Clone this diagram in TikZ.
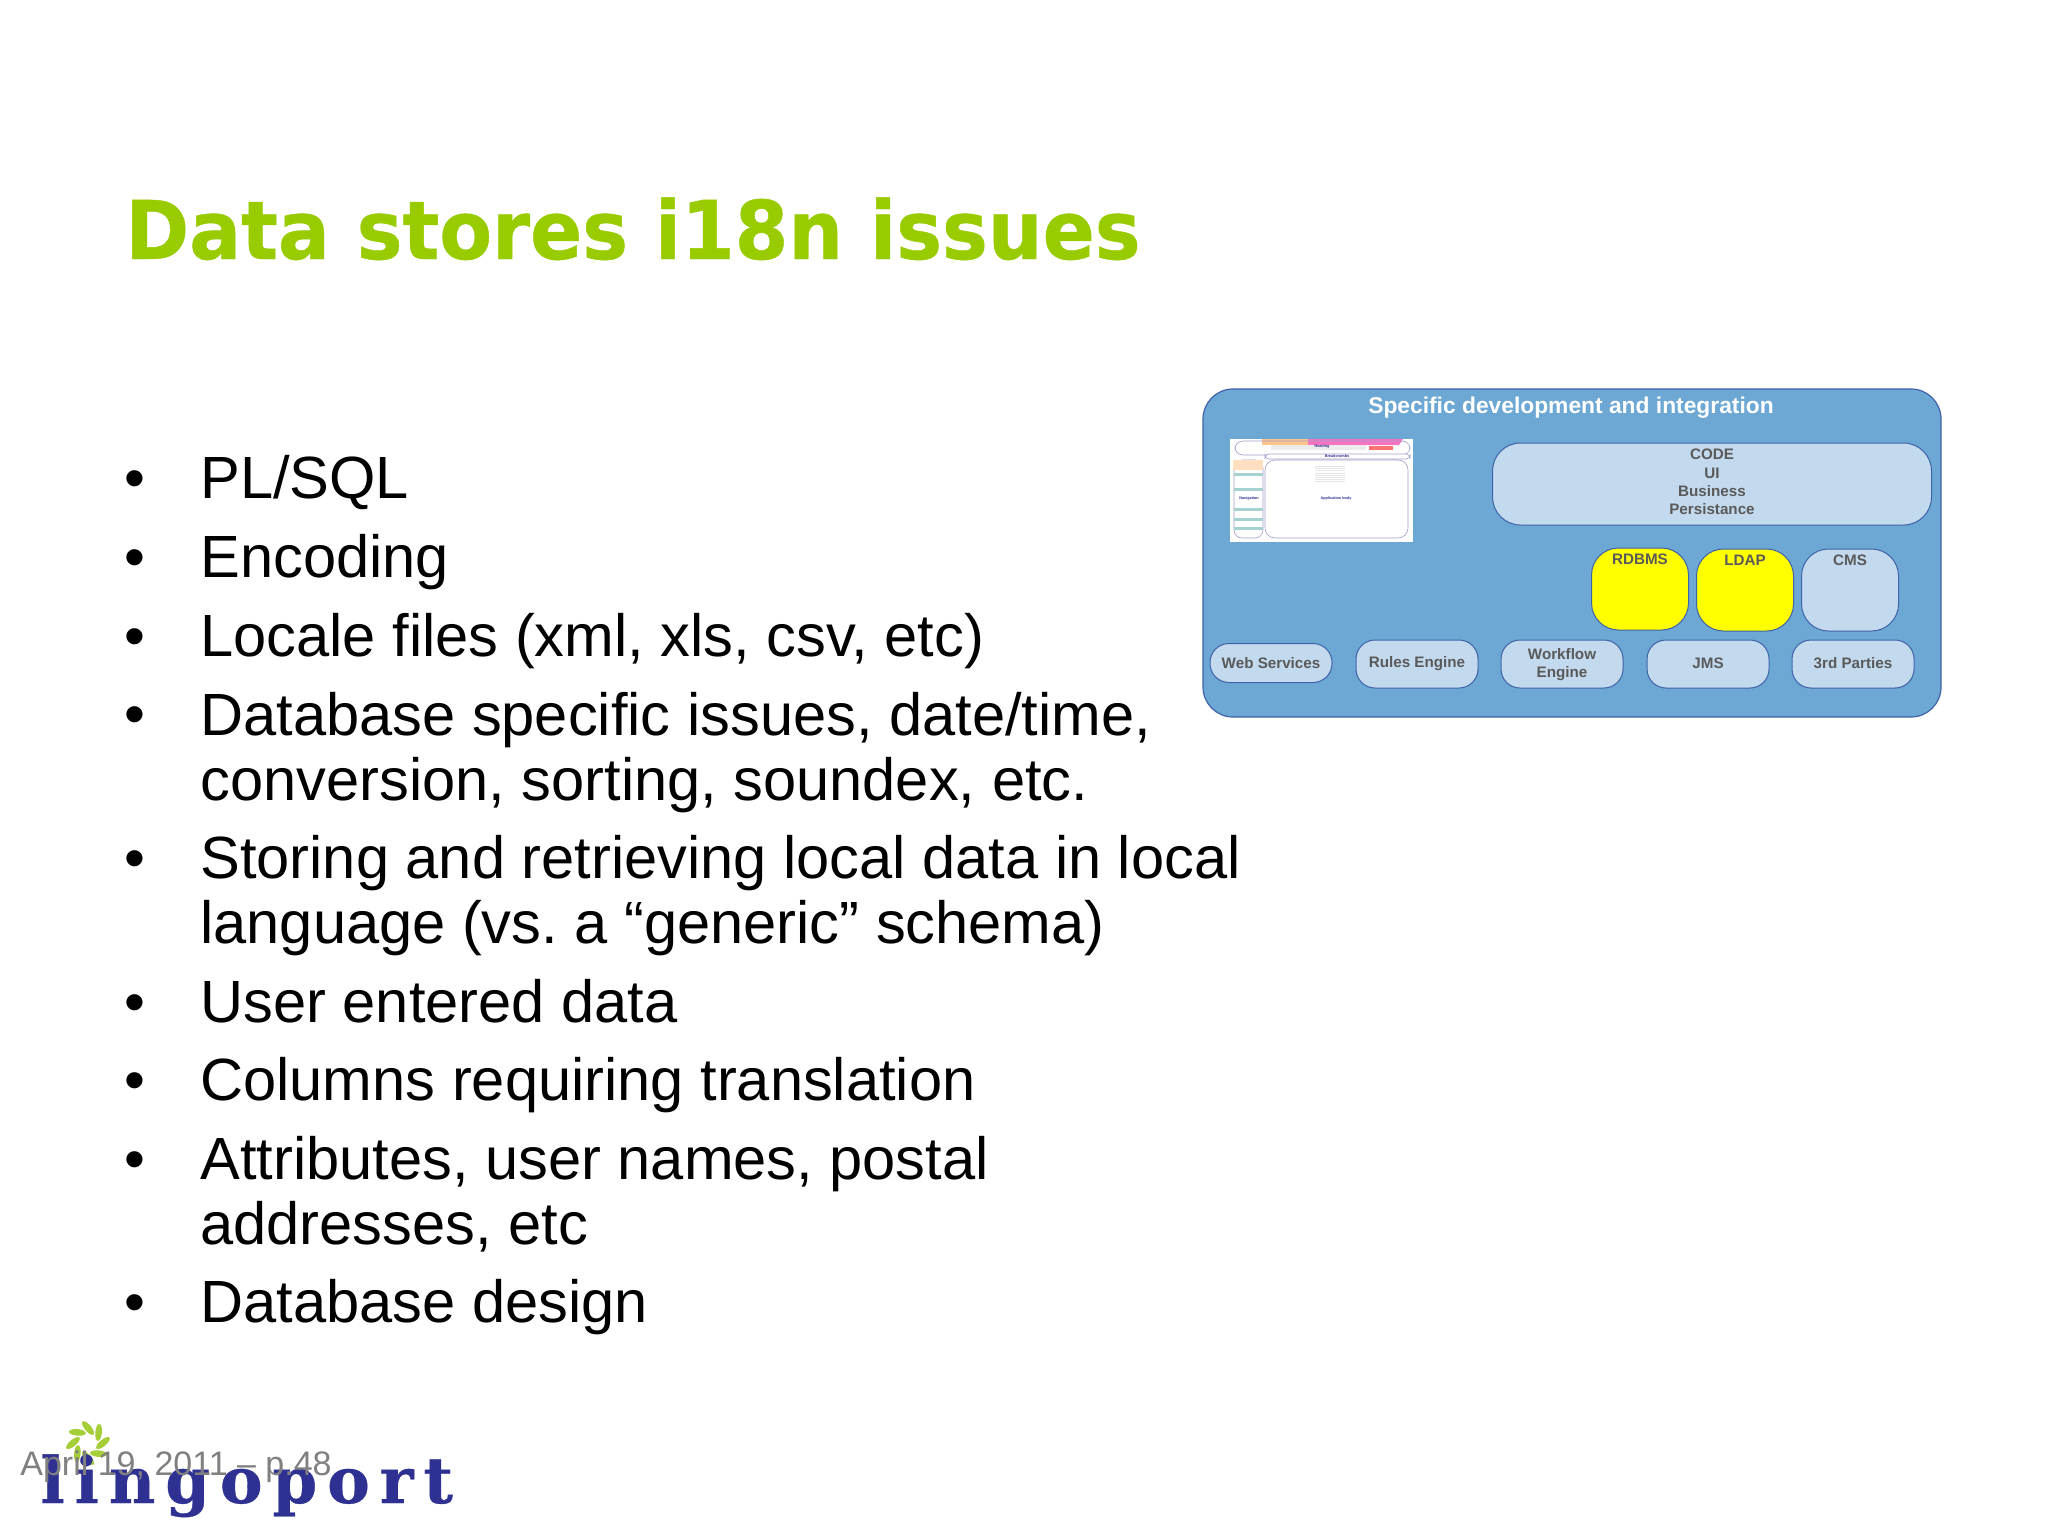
\documentclass[tikz,border=0pt]{standalone}
\usepackage{fontspec}
\setmainfont{Liberation Sans}
\newfontfamily\titlefont[FakeStretch=.95,FakeBold=.6]{DejaVu Sans}
\newfontfamily\logofont[LetterSpace=15.5,FakeBold=.5]{DejaVu Serif}
\usetikzlibrary{shapes, arrows}

\definecolor{slidegreen}{HTML}{99CC00}
\definecolor{panelblue}{HTML}{6CA8D3}
\definecolor{lightblue}{HTML}{C2D9EE}
\definecolor{edgeblue}{HTML}{3F62A8}
\definecolor{boxtext}{HTML}{5A5A5A}
\definecolor{storeyellow}{HTML}{FFFF00}
\definecolor{logoblue}{HTML}{2E3192}
\definecolor{logogreen}{HTML}{A6CE39}
\definecolor{shotpurple}{HTML}{A79CC8}

\begin{document}
\frenchspacing
\begin{tikzpicture}[x=.5pt, y=-.5pt]
      \tikzstyle{slidetitle} = [
        anchor=base west,
        inner sep=0pt,
        text=slidegreen,
        font=\titlefont\bfseries\fontsize{40.5}{41}\selectfont
      ]

      \tikzstyle{bullettext} = [
        anchor=base west,
        inner sep=0pt,
        align=left,
        text=black,
        font=\fontsize{29.8}{32.5}\selectfont
      ]

      \tikzstyle{panel} = [
        rectangle,
        draw=edgeblue,
        fill=panelblue,
        line width=.6pt,
        rounded corners=15pt,
        minimum width=369pt,
        minimum height=164pt
      ]

      \tikzstyle{bigbox} = [
        rectangle,
        draw=edgeblue,
        fill=lightblue,
        line width=.5pt,
        rounded corners=14pt,
        minimum width=219.5pt,
        minimum height=41pt,
        inner sep=0pt
      ]

      \tikzstyle{store} = [
        rectangle,
        draw=edgeblue,
        fill=lightblue,
        line width=.5pt,
        rounded corners=13.5pt,
        minimum width=48.5pt,
        minimum height=41pt,
        inner sep=0pt
      ]

      \tikzstyle{service} = [
        rectangle,
        draw=edgeblue,
        fill=lightblue,
        line width=.5pt,
        rounded corners=9.5pt,
        minimum width=61pt,
        minimum height=24pt,
        inner sep=0pt
      ]

      \tikzstyle{boxlabel} = [
        inner sep=0pt,
        align=center,
        text=boxtext,
        font=\bfseries\fontsize{7.6}{9.2}\selectfont
      ]

      \tikzstyle{shottext} = [
        inner sep=0pt,
        text=logoblue,
        font=\bfseries\fontsize{1.9}{2}\selectfont
      ]

      \useasboundingbox (0,0) rectangle (2048,1536);
      \fill[white] (0,0) rectangle (2048,1536);

      \node[slidetitle] (title) at (125,259) {Data stores i18n issues};

      % bullets
      \node[bullettext] (dota) at (124,498) {•};
      \node[bullettext] (plsql) at (200,498) {PL/SQL};
      \node[bullettext] (dotb) at (124,577) {•};
      \node[bullettext] (encoding) at (200,577) {Encoding};
      \node[bullettext] (dotc) at (124,656) {•};
      \node[bullettext] (locale) at (200,656) {Locale files (xml, xls, csv, etc)};
      \node[bullettext] (dotd) at (124,734) {•};
      \node[bullettext] (database) at (200,800) {Database specific issues, date/time,\\conversion, sorting, soundex, etc.};
      \node[bullettext] (dote) at (124,878) {•};
      \node[bullettext] (storing) at (200,943) {Storing and retrieving local data in local\\language (vs. a “generic” schema)};
      \node[bullettext] (dotf) at (124,1022) {•};
      \node[bullettext] (user) at (200,1022) {User entered data};
      \node[bullettext] (dotg) at (124,1100) {•};
      \node[bullettext] (columns) at (200,1100) {Columns requiring translation};
      \node[bullettext] (doth) at (124,1179) {•};
      \node[bullettext] (attributes) at (200,1244) {Attributes, user names, postal\\addresses, etc};
      \node[bullettext] (doti) at (124,1322.5) {•};
      \node[bullettext] (design) at (200,1322.5) {Database design};

      % diagram on the right
      \node[panel] (panel) at (1572,553) {};
      \node[inner sep=0pt, text=white, font=\bfseries\fontsize{11.4}{13}\selectfont]
      (paneltitle) at (1571,407.5) {Specific development and integration};

      \node[bigbox] (code) at (1712,484) {};
      \node[boxlabel] (codetext) at (1712,482) {CODE\\UI\\Business\\Persistance};

      \node[store, fill=storeyellow] (rdbms) at (1640,589) {};
      \node[boxlabel] (rdbmstext) at (1640,559) {RDBMS};
      \node[store, fill=storeyellow] (ldap) at (1745,590) {};
      \node[boxlabel] (ldaptext) at (1745,560) {LDAP};
      \node[store] (cms) at (1850,590) {};
      \node[boxlabel] (cmstext) at (1850,560) {CMS};

      \node[service, minimum height=19.5pt] (web) at (1271,663) {};
      \node[boxlabel] (webtext) at (1271,663) {Web Services};
      \node[service] (rules) at (1417,664) {};
      \node[boxlabel] (rulestext) at (1417,663.5) {Rules Engine};
      \node[service] (workflow) at (1562,664) {};
      \node[boxlabel] (workflowtext) at (1562,664.5) {Workflow\\Engine};
      \node[service] (jms) at (1708,664) {};
      \node[boxlabel] (jmstext) at (1708,663.5) {JMS};
      \node[service] (parties) at (1853,664) {};
      \node[boxlabel] (partiestext) at (1853,663.5) {3rd Parties};

      % little page picture
      \fill[white] (1230,439) rectangle (1413,542);
      \fill[orange!45] (1262,439) rectangle (1308,445);
      \fill[magenta!55] (1308,439) -- (1403,439) -- (1399,445) -- (1308,445) -- cycle;
      \fill[gray!15] (1271,445) rectangle (1366,450);
      \fill[red!55] (1369,446) rectangle (1393,450);
      \draw[shotpurple, line width=.3pt, rounded corners=4pt] (1235,441) rectangle (1410,455);
      \draw[shotpurple, line width=.3pt, fill=white, rounded corners=2pt] (1265,454) rectangle (1410,459);
      \draw[shotpurple, line width=.3pt, fill=white, rounded corners=5pt] (1265,460) rectangle (1408,538);
      \draw[shotpurple, line width=.3pt, fill=white, rounded corners=4pt] (1234,460) rectangle (1263,538);
      \fill[orange!25] (1233,460) rectangle (1263,470);
      \foreach \y in {473,488,508,518,527}
        \fill[teal!35] (1234,\y) rectangle (1263,\y+3);
      \foreach \y in {466,468,470,473,475,477,479,481}
        \fill[gray!20] (1315,\y) rectangle (1345,\y+.6);
      \node[shottext] (heading) at (1322,447) {Heading};
      \node[shottext] (crumbs) at (1337,456.5) {Breadcrumbs};
      \node[shottext] (navigation) at (1249,498.5) {Navigation};
      \node[shottext] (appbody) at (1336,499) {Application body};

      % logo
      \foreach \a in {0,45,...,315}
        \fill[logogreen, rotate around={\a:(88,1443)}]
        (88,1428) ellipse [x radius=8.5, y radius=3.3, rotate=-50];
      \node[anchor=base west, inner sep=0pt, text=logoblue,
      font=\logofont\bfseries\fontsize{32}{32}\selectfont]
      (logo) at (40,1503) {lingoport};

      \node[anchor=base west, inner sep=0pt, text=gray,
      font=\fontsize{17}{17}\selectfont] (date) at (20,1475) {April 19, 2011 – p.48};
\end{tikzpicture}
\end{document}
